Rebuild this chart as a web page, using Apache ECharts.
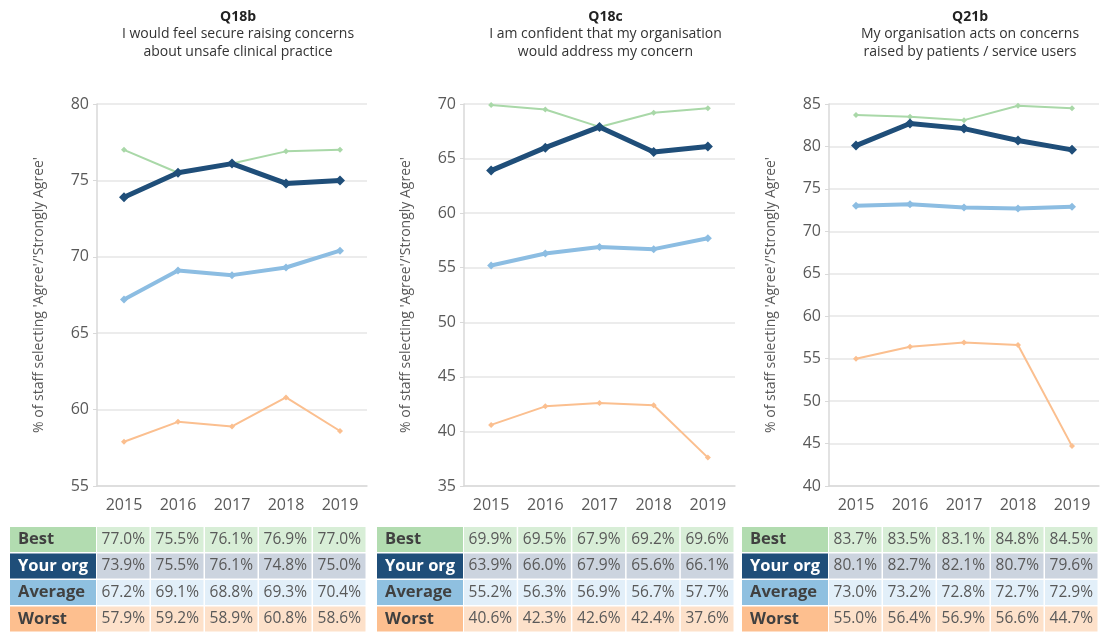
<!DOCTYPE html>
<html>
<head>
<meta charset="utf-8">
<script src="https://cdn.jsdelivr.net/npm/echarts@6/dist/echarts.min.js"></script>
<style>
  html, body { margin: 0; padding: 0; background: #ffffff; }
  #chart { width: 1119px; height: 641px; }
</style>
</head>
<body>
<div id="chart"></div>
<script>
const years = ["2015", "2016", "2017", "2018", "2019"];
const rowNames = ["Best", "Your org", "Average", "Worst"];

const codes = ["Q18b", "Q18c", "Q21b"];
const questions = [
  "I would feel secure raising concerns\nabout unsafe clinical practice",
  "I am confident that my organisation\nwould address my concern",
  "My organisation acts on concerns\nraised by patients / service users",
];

// values per panel, rows in order Best, Your org, Average, Worst
const q18bBest = [77.0, 75.5, 76.1, 76.9, 77.0];
const q18bOrg = [73.9, 75.5, 76.1, 74.8, 75.0];
const q18bAvg = [67.2, 69.1, 68.8, 69.3, 70.4];
const q18bWorst = [57.9, 59.2, 58.9, 60.8, 58.6];

const q18cBest = [69.9, 69.5, 67.9, 69.2, 69.6];
const q18cOrg = [63.9, 66.0, 67.9, 65.6, 66.1];
const q18cAvg = [55.2, 56.3, 56.9, 56.7, 57.7];
const q18cWorst = [40.6, 42.3, 42.6, 42.4, 37.6];

const q21bBest = [83.7, 83.5, 83.1, 84.8, 84.5];
const q21bOrg = [80.1, 82.7, 82.1, 80.7, 79.6];
const q21bAvg = [73.0, 73.2, 72.8, 72.7, 72.9];
const q21bWorst = [55.0, 56.4, 56.9, 56.6, 44.7];

const yMins = [55, 35, 40];
const yMaxs = [80, 70, 85];
const yStep = 5;

const panels = [
  [q18bBest, q18bOrg, q18bAvg, q18bWorst],
  [q18cBest, q18cOrg, q18cAvg, q18cWorst],
  [q21bBest, q21bOrg, q21bAvg, q21bWorst],
];

// layout and style
const FONT = '"Open Sans", "Noto Sans", sans-serif';
const TEXT = "#595959";
const GRIDS = [
  { left: 97, width: 270 },
  { left: 464, width: 271 },
  { left: 829, width: 270 },
];
const GRID_TOP = 104;
const GRID_H = 382;
const TABLE_TOP = 527;
const ROW_H = 26.5;
const LABEL_W = 87;

const lineColors = ["#a9d8a8", "#1f4e79", "#8cbde2", "#fbbf8f"];
const lineWidths = [2, 5, 4, 2];
const symbolSizes = [6, 10, 8, 6];
const labelFills = ["#b2dcb0", "#1f4e79", "#8fc0e0", "#fdbf8f"];
const labelText = ["#404040", "#ffffff", "#404040", "#404040"];
const cellFills = ["#d8eed7", "#ccd4df", "#e2eff9", "#fde1ca"];

const chart = echarts.init(document.getElementById("chart"), null, { renderer: "canvas" });

const title = GRIDS.map((g, i) => ({
  text: codes[i],
  subtext: questions[i],
  left: g.left + g.width / 2 + 1,
  top: 5,
  textAlign: "center",
  itemGap: 1,
  textStyle: { fontFamily: FONT, fontSize: 14, fontWeight: "bold", color: "#222222" },
  subtextStyle: { fontFamily: FONT, fontSize: 14, color: "#333333", lineHeight: 18, align: "center" },
}));

const grid = GRIDS.map((g) => ({
  left: g.left,
  width: g.width,
  top: GRID_TOP,
  height: GRID_H,
}));

const xAxis = GRIDS.map((g, i) => ({
  type: "category",
  gridIndex: i,
  data: years,
  boundaryGap: true,
  axisLine: { lineStyle: { color: "#d9d9d9", width: 1.5 } },
  axisTick: { show: false },
  axisLabel: { fontFamily: FONT, fontSize: 16, color: TEXT, margin: 11 },
}));

const yAxis = GRIDS.map((g, i) => ({
  type: "value",
  gridIndex: i,
  min: yMins[i],
  max: yMaxs[i],
  interval: yStep,
  name: "% of staff selecting 'Agree'/'Strongly Agree'",
  nameLocation: "middle",
  nameGap: 51,
  nameTextStyle: { fontFamily: FONT, fontSize: 14, color: TEXT },
  axisLine: { show: true, lineStyle: { color: "#d9d9d9", width: 1.5 } },
  axisTick: { show: true, length: 4, lineStyle: { color: "#d9d9d9" } },
  axisLabel: { fontFamily: FONT, fontSize: 16, color: TEXT, margin: 8 },
  splitLine: { lineStyle: { color: "#e6e6e6", width: 1.5 } },
}));

const series = [];
panels.forEach((rows, p) => {
  // draw worst first so "Your org" sits on top
  [3, 2, 0, 1].forEach((r) => {
    series.push({
      type: "line",
      name: rowNames[r],
      xAxisIndex: p,
      yAxisIndex: p,
      data: rows[r],
      symbol: "diamond",
      symbolSize: symbolSizes[r],
      lineStyle: { color: lineColors[r], width: lineWidths[r] },
      itemStyle: { color: lineColors[r] },
      animation: false,
    });
  });
});

// tables under each chart, cells aligned with the year categories
const graphic = [];
GRIDS.forEach((g, p) => {
  const cellW = g.width / years.length;
  rowNames.forEach((name, r) => {
    const y = TABLE_TOP + r * ROW_H;
    graphic.push({
      type: "rect",
      shape: { x: g.left - LABEL_W, y: y, width: LABEL_W - 1, height: ROW_H - 1.5 },
      style: { fill: labelFills[r] },
    });
    graphic.push({
      type: "text",
      x: g.left - LABEL_W + 8,
      y: y + (ROW_H - 1.5) / 2,
      style: {
        text: name,
        fill: labelText[r],
        font: "bold 16.5px " + FONT,
        verticalAlign: "middle",
      },
    });
    panels[p][r].forEach((v, c) => {
      const x = g.left + c * cellW;
      graphic.push({
        type: "rect",
        shape: { x: x, y: y, width: cellW - 1.5, height: ROW_H - 1.5 },
        style: { fill: cellFills[r] },
      });
      graphic.push({
        type: "text",
        x: x + (cellW - 1.5) / 2,
        y: y + (ROW_H - 1.5) / 2,
        style: {
          text: v.toFixed(1) + "%",
          fill: TEXT,
          font: "15.5px " + FONT,
          align: "center",
          verticalAlign: "middle",
        },
      });
    });
  });
});

chart.setOption({
  animation: false,
  backgroundColor: "#ffffff",
  textStyle: { fontFamily: FONT },
  title: title,
  grid: grid,
  xAxis: xAxis,
  yAxis: yAxis,
  series: series,
  graphic: graphic,
});
</script>
</body>
</html>
